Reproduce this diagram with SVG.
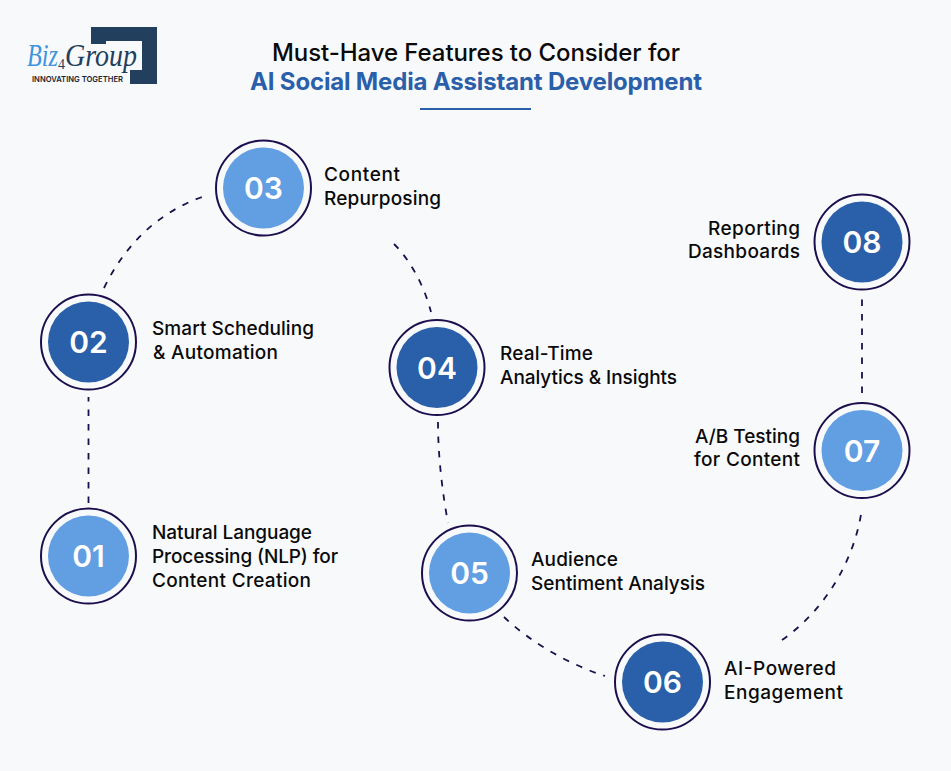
<svg xmlns="http://www.w3.org/2000/svg" width="951" height="771" viewBox="0 0 951 771">
<style>
text{font-family:"Inter","Liberation Sans",sans-serif}
.ring{fill:#f8f9fb;stroke:#1d0f4d;stroke-width:2}
.dark{fill:#2a5fa9}
.light{fill:#629ee2}
.num{font-size:30px;font-weight:600;fill:#fff;text-anchor:middle}
.lab{font-size:19px;font-weight:500;fill:#0a0a0a}
.end{text-anchor:end}
.dash{fill:none;stroke:#1d0f4d;stroke-width:1.8;stroke-dasharray:6.5 8}
</style>
<rect width="951" height="771" fill="#f8f9fb"/>
<g id="logo">
<path d="M91 27H157V84H130V70H142V41H106V44H91Z" fill="#233f5e"/>
<text x="27" y="66" font-size="31" font-style="italic" style="font-family:'Liberation Serif',serif" fill="#233f5e"><tspan fill="#3f94dd" textLength="31" lengthAdjust="spacingAndGlyphs">Biz</tspan><tspan dy="3" font-size="14" font-style="normal">4</tspan><tspan dy="-3" textLength="72" lengthAdjust="spacingAndGlyphs">Group</tspan></text>
<text x="32" y="82" font-size="8" font-weight="600" fill="#1b2430" textLength="91" lengthAdjust="spacingAndGlyphs">INNOVATING TOGETHER</text>
</g>
<g id="title">
<text x="476" y="61" font-size="24" font-weight="500" fill="#0a0a0a" text-anchor="middle" textLength="408">Must-Have Features to Consider for</text>
<text x="476" y="90" font-size="24" font-weight="700" fill="#2a5fa9" text-anchor="middle" textLength="452">AI Social Media Assistant Development</text>
<rect x="420" y="108" width="111" height="2" fill="#2a5fa9"/>
</g>
<g id="connectors">
<path class="dash" d="M88.5 503V397"/>
<path class="dash" d="M104 288C126 243 160 211 205 196"/>
<path class="dash" d="M394 244C410 260 424 285 431 312"/>
<path class="dash" d="M438 422C438 455 442 490 448 523"/>
<path class="dash" d="M504 617C530 642 568 664 605 676"/>
<path class="dash" d="M782 640C825 610 855 560 862 508"/>
<path class="dash" d="M862 393V298"/>
</g>
<g id="node-01"><circle class="ring" cx="88.5" cy="556" r="47.5"/><circle class="light" cx="88.5" cy="556" r="40.5"/><text class="num" x="88.5" y="567">01</text><text class="lab" x="152" y="539" textLength="160">Natural Language</text><text class="lab" x="152" y="563" textLength="186">Processing (NLP) for</text><text class="lab" x="152" y="587" textLength="159">Content Creation</text></g>
<g id="node-02"><circle class="ring" cx="88.5" cy="342" r="47.5"/><circle class="dark" cx="88.5" cy="342" r="40.5"/><text class="num" x="88.5" y="353">02</text><text class="lab" x="152" y="335" textLength="162">Smart Scheduling</text><text class="lab" x="153" y="359" textLength="125">&amp; Automation</text></g>
<g id="node-03"><circle class="ring" cx="263.5" cy="188" r="47.5"/><circle class="light" cx="263.5" cy="188" r="40.5"/><text class="num" x="263.5" y="199">03</text><text class="lab" x="324" y="181" textLength="76">Content</text><text class="lab" x="324" y="205" textLength="117">Repurposing</text></g>
<g id="node-04"><circle class="ring" cx="437" cy="367.5" r="47.5"/><circle class="dark" cx="437" cy="367.5" r="40.5"/><text class="num" x="437" y="378.5">04</text><text class="lab" x="500" y="360" textLength="93">Real-Time</text><text class="lab" x="500" y="384" textLength="177">Analytics &amp; Insights</text></g>
<g id="node-05"><circle class="ring" cx="469.5" cy="573" r="47.5"/><circle class="light" cx="469.5" cy="573" r="40.5"/><text class="num" x="469.5" y="584">05</text><text class="lab" x="531" y="566" textLength="87">Audience</text><text class="lab" x="531" y="590" textLength="174">Sentiment Analysis</text></g>
<g id="node-06"><circle class="ring" cx="662.5" cy="682" r="47.5"/><circle class="dark" cx="662.5" cy="682" r="40.5"/><text class="num" x="662.5" y="693">06</text><text class="lab" x="724" y="675" textLength="112">AI-Powered</text><text class="lab" x="724" y="699" textLength="119">Engagement</text></g>
<g id="node-07"><circle class="ring" cx="862" cy="450.5" r="47.5"/><circle class="light" cx="862" cy="450.5" r="40.5"/><text class="num" x="862" y="461.5">07</text><text class="lab end" x="800" y="443" textLength="105">A/B Testing</text><text class="lab end" x="800" y="466" textLength="106">for Content</text></g>
<g id="node-08"><circle class="ring" cx="862" cy="242" r="47.5"/><circle class="dark" cx="862" cy="242" r="40.5"/><text class="num" x="862" y="253">08</text><text class="lab end" x="800" y="235" textLength="92">Reporting</text><text class="lab end" x="800" y="258" textLength="112">Dashboards</text></g>
</svg>
